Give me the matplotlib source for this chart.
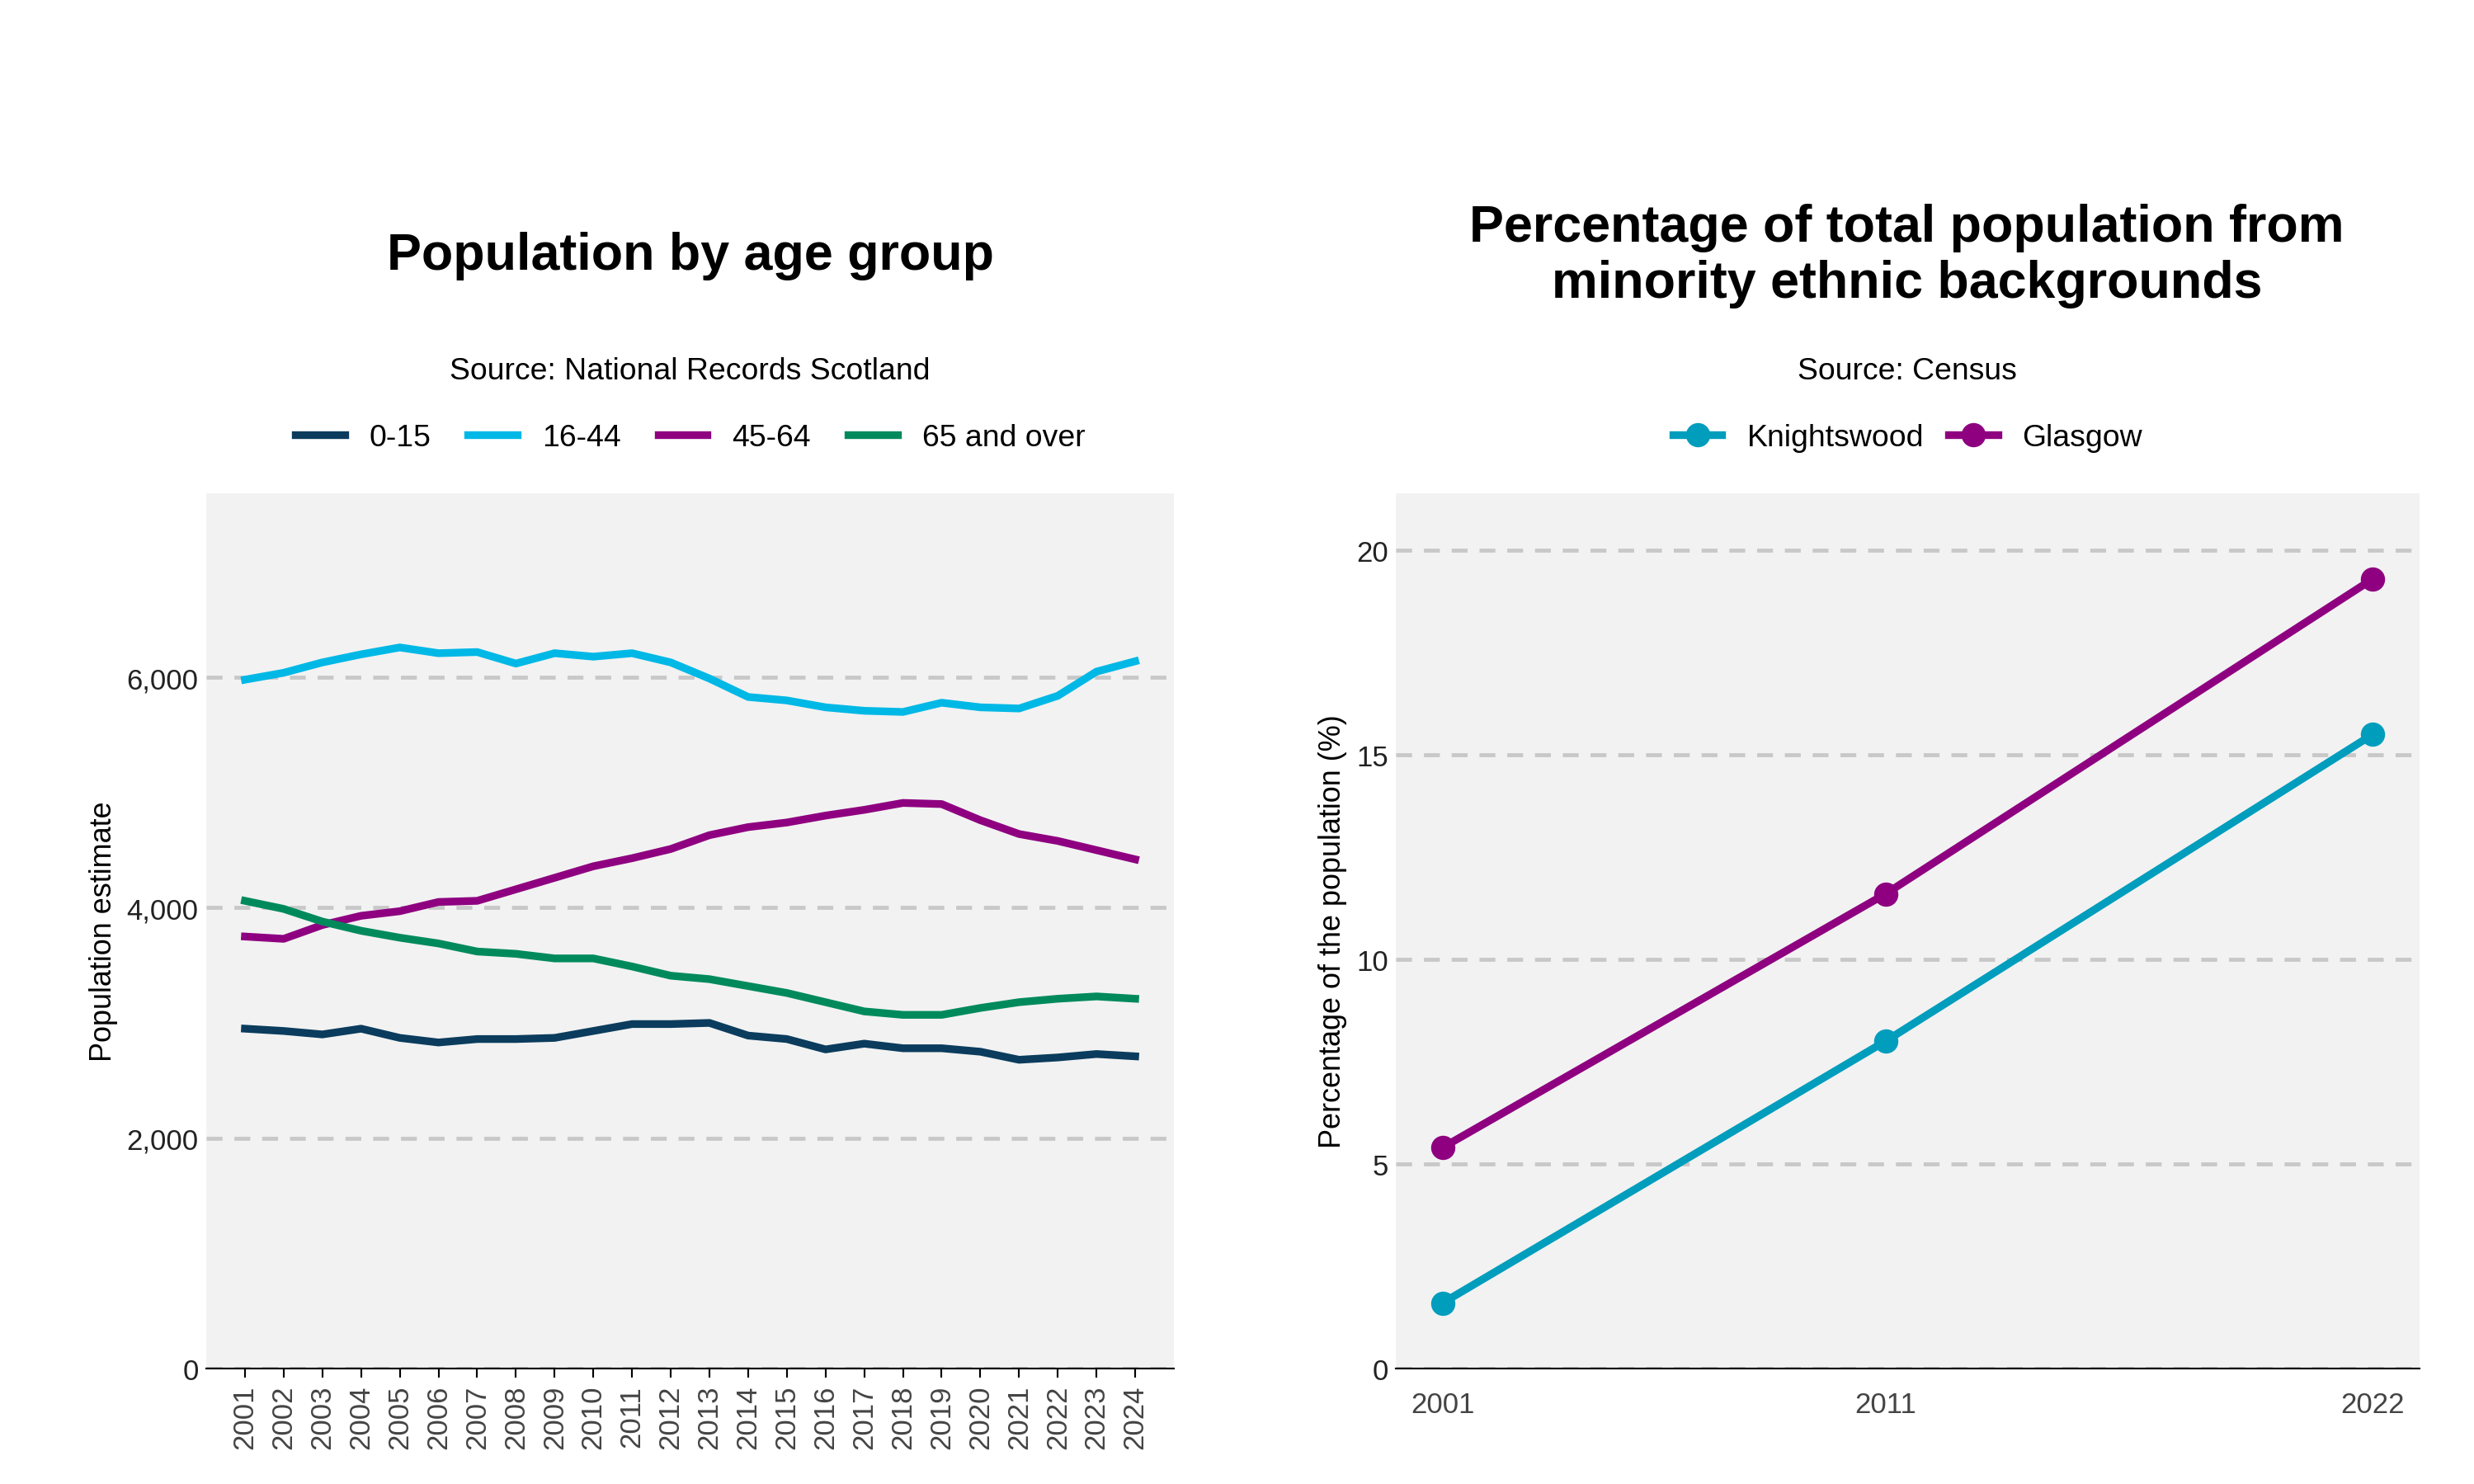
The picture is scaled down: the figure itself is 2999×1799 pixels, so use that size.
import matplotlib
matplotlib.use("Agg")
import matplotlib.pyplot as plt

years = list(range(2001, 2025))
age_0_15 = [2950, 2930, 2900, 2950, 2870, 2830, 2860, 2860, 2870, 2930, 2990, 2990, 3000, 2890, 2860, 2770, 2820, 2780, 2780, 2750, 2680, 2700, 2730, 2710]
age_16_44 = [5980, 6040, 6130, 6200, 6260, 6210, 6220, 6120, 6210, 6180, 6210, 6130, 5990, 5830, 5800, 5740, 5710, 5700, 5780, 5740, 5730, 5840, 6050, 6140]
age_45_64 = [3750, 3730, 3850, 3930, 3970, 4050, 4060, 4160, 4260, 4360, 4430, 4510, 4630, 4700, 4740, 4800, 4850, 4910, 4900, 4760, 4640, 4580, 4500, 4420]
age_65 = [4060, 3990, 3880, 3800, 3740, 3690, 3620, 3600, 3560, 3560, 3490, 3410, 3380, 3320, 3260, 3180, 3100, 3070, 3070, 3130, 3180, 3210, 3230, 3210]

census_years = [2001, 2011, 2022]
knightswood = [1.6, 8.0, 15.5]
glasgow = [5.4, 11.6, 19.3]

plt.rcParams['font.family'] = ['Liberation Sans', 'DejaVu Sans']
W, H = 1560, 938
fig = plt.figure(figsize=(15.6, 9.36), dpi=192.3)

def style(ax):
    ax.set_facecolor('#f2f2f2')
    for s in ['top', 'right', 'left']:
        ax.spines[s].set_visible(False)
    ax.spines['bottom'].set_color('black')
    ax.grid(axis='y', color='#c8c8c8', linestyle=(0, (4, 3)), linewidth=1.8)
    ax.set_axisbelow(True)
    ax.tick_params(axis='y', length=0, labelsize=13, labelcolor='#222222')
    ax.tick_params(axis='x', labelsize=13, labelcolor='#444444')

ax1 = fig.add_axes([130/W, 1-865/H, 610/W, 553/H])
style(ax1)
for vals, c, lab in [(age_0_15, '#0b3c5d', '0-15'), (age_16_44, '#00b8e6', '16-44'),
                     (age_45_64, '#8e0080', '45-64'), (age_65, '#008a5c', '65 and over')]:
    ax1.plot(years, vals, color=c, lw=3.5, label=lab)
ax1.set_ylim(0, 7600)
ax1.set_xlim(2000.0, 2025.0)
ax1.set_yticks([0, 2000, 4000, 6000])
ax1.set_yticklabels(['0', '2,000', '4,000', '6,000'])
ax1.set_xticks(years)
ax1.set_xticklabels([str(y) for y in years], rotation=90)
ax1.tick_params(axis='x', length=4)
ax1.set_ylabel('Population estimate', fontsize=13.5)
ax1.legend(loc='lower center', bbox_to_anchor=(0.5, 1.015), ncol=4, frameon=False,
           fontsize=14, handlelength=1.6, columnspacing=1.2)
fig.text(435/W, 1-162/H, 'Population by age group', ha='center', va='center', fontsize=23.5, fontweight='bold')
fig.text(435/W, 1-235/H, 'Source: National Records Scotland', ha='center', va='center', fontsize=14)

ax2 = fig.add_axes([880/W, 1-865/H, 645/W, 553/H])
style(ax2)
ax2.plot(census_years, knightswood, color='#009dbd', lw=3.5, marker='o', ms=10, label='Knightswood')
ax2.plot(census_years, glasgow, color='#8e0080', lw=3.5, marker='o', ms=10, label='Glasgow')
ax2.set_ylim(0, 21.4)
ax2.set_xlim(1999.95, 2023.05)
ax2.set_yticks([0, 5, 10, 15, 20])
ax2.set_xticks(census_years)
ax2.tick_params(axis='x', length=0, pad=10)
ax2.set_ylabel('Percentage of the population (%)', fontsize=13.5)
ax2.legend(loc='lower center', bbox_to_anchor=(0.5, 1.015), ncol=2, frameon=False,
           fontsize=14, handlelength=1.6, columnspacing=0.8)
fig.text(1202/W, 1-162/H, 'Percentage of total population from\nminority ethnic backgrounds',
         ha='center', va='center', fontsize=23.5, fontweight='bold', linespacing=1.2)
fig.text(1202/W, 1-235/H, 'Source: Census', ha='center', va='center', fontsize=14)

fig.savefig('out.png', dpi=192.3, facecolor='white')
